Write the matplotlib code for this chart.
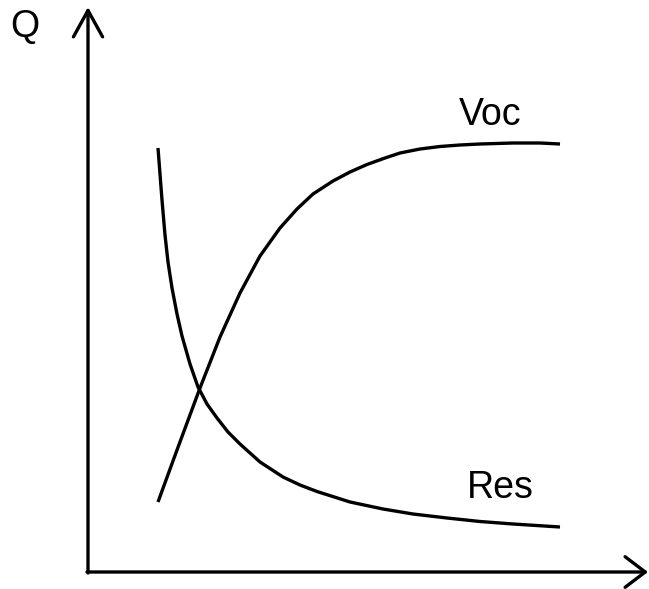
import matplotlib
matplotlib.use("Agg")
import matplotlib.pyplot as plt

# Curve samples (x: right of the Q axis, y: above the time axis)
voc_x = [70, 89, 112, 132, 152, 172, 192, 209, 225, 245, 262, 279, 297, 312,
         332, 352, 372, 392, 425, 452, 472]
voc_y = [70, 122, 184, 235, 279, 316, 344, 363, 378, 391, 400, 407.5, 414, 419,
         423, 425.5, 427, 428, 429, 429, 428]

res_x = [70, 72, 74, 77, 80, 84, 89, 94, 102, 110, 119, 129, 140, 152, 172,
         195, 212, 229, 262, 295, 325, 359, 392, 425, 472]
res_y = [424, 398, 372, 337, 310, 284, 258, 236, 208, 185, 168, 154, 140, 128, 110,
         95, 87, 80.5, 70, 63, 58, 54, 50.5, 48, 45]

labels = {"Q": (-63, 545), "Voc": (402, 457), "Res": (412, 84)}

fig = plt.figure(figsize=(6.49, 5.89), dpi=100)
ax = fig.add_axes([0, 0, 1, 1])
ax.set_xlim(-88, 561)
ax.set_ylim(-17, 572)
ax.axis("off")

lw = 2.4
for xs, ys in ((voc_x, voc_y), (res_x, res_y)):
    ax.plot(xs, ys, color="black", lw=lw, solid_capstyle="butt",
            solid_joinstyle="round")

# axes with open arrowheads
ax.annotate("", xy=(0, 565), xytext=(0, -1),
            arrowprops=dict(arrowstyle="->,head_length=1.9,head_width=1.05",
                            lw=lw, color="black", shrinkA=0, shrinkB=0))
ax.annotate("", xy=(560, 0), xytext=(-1, 0),
            arrowprops=dict(arrowstyle="->,head_length=1.45,head_width=1.1",
                            lw=lw, color="black", shrinkA=0, shrinkB=0))

fnt = dict(family="Liberation Sans", fontsize=27, color="black",
           ha="center", va="center")
for txt, (x, y) in labels.items():
    ax.text(x, y, txt, **fnt)

fig.savefig("out.png", dpi=100, facecolor="white")
